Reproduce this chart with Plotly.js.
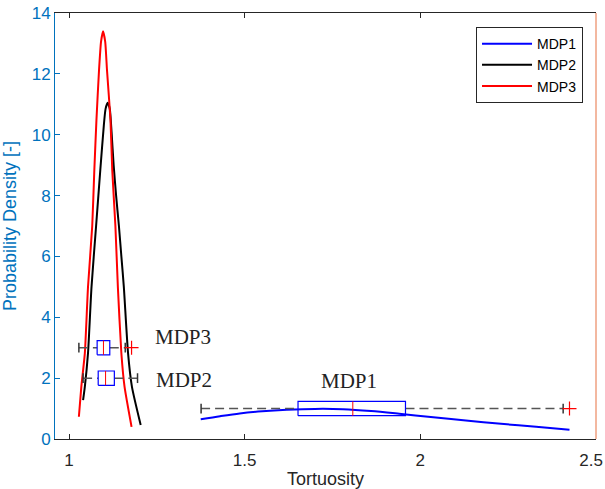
<!DOCTYPE html>
<html><head><meta charset="utf-8">
<script src="https://cdn.plot.ly/plotly-3.0.1.min.js"></script>
<style>html,body{margin:0;padding:0;background:#fff}#chart{width:605px;height:489px}</style>
</head><body><div id="chart"></div>
<script>
// Density curves
const mdp1X = [1.375,1.43,1.486,1.55,1.62,1.70,1.78,1.86,1.94,2.03,2.13,2.23,2.33,2.425];
const mdp1Y = [0.65,0.75,0.84,0.91,0.96,0.99,0.98,0.92,0.83,0.72,0.61,0.50,0.40,0.30];
const mdp2X = [1.040,1.045,1.054,1.064,1.077,1.089,1.099,1.104,1.110,1.116,1.121,1.127,1.134,1.142,1.149,1.156,1.168,1.179,1.204];
const mdp2Y = [1.28,1.72,2.82,5.0,7.0,8.84,10.3,10.85,11.05,10.85,10.1,9.0,8.0,7.0,6.0,5.0,2.82,1.72,0.46];
const mdp3X = [1.028,1.035,1.045,1.054,1.066,1.072,1.078,1.0854,1.091,1.0968,1.103,1.108,1.118,1.123,1.132,1.139,1.149,1.158,1.178];
const mdp3Y = [0.73,1.72,2.82,5.0,7.0,8.84,10.48,12.13,13.05,13.40,13.05,12.13,10.48,8.84,7.0,5.0,2.82,1.72,0.40];

// Box plot statistics (horizontal boxes)
const boxNames = ['MDP1','MDP2','MDP3'];
const boxPos = [1,2,3];
const whiskLo = [1.376,1.040,1.028];
const q1 = [1.652,1.083,1.080];
const med = [1.808,1.104,1.098];
const q3 = [1.958,1.129,1.116];
const whiskHi = [2.407,1.195,1.160];
const outX = [2.425,1.178];
const outY = [1,3];

// Axis ticks
const xTickVals = [1,1.5,2,2.5];
const xTickText = ['1','1.5','2','2.5\u00a0\u00a0'];

// Text labels
const labelText = ['MDP1','MDP2','MDP3'];
const labelX = [1.798,1.328,1.324];
const labelY = [1.90,1.94,3.36];

const H = 0.235;
const traces = [
  {x:mdp1X,y:mdp1Y,type:'scatter',mode:'lines',name:'MDP1',line:{color:'#0000FF',width:2,shape:'spline',smoothing:0.8}},
  {x:mdp2X,y:mdp2Y,type:'scatter',mode:'lines',name:'MDP2',line:{color:'#000000',width:2,shape:'spline',smoothing:0.6}},
  {x:mdp3X,y:mdp3Y,type:'scatter',mode:'lines',name:'MDP3',line:{color:'#FF0000',width:2,shape:'spline',smoothing:0.5}}
];
for (let i=0;i<boxPos.length;i++){
  const y=boxPos[i];
  traces.push({x:[whiskLo[i],q1[i],null,q3[i],whiskHi[i]],y:[y,y,null,y,y],type:'scatter',mode:'lines',showlegend:false,hoverinfo:'skip',line:{color:'#555',width:1.5,dash:'9px,5px'}});
  traces.push({x:[whiskLo[i],whiskHi[i]],y:[y,y],type:'scatter',mode:'markers',showlegend:false,hoverinfo:'skip',marker:{symbol:'line-ns',size:7,line:{color:'#333',width:1.5}}});
  traces.push({x:[q1[i],q3[i],q3[i],q1[i],q1[i]],y:[y-H,y-H,y+H,y+H,y-H],type:'scatter',mode:'lines',showlegend:false,hoverinfo:'skip',line:{color:'#0000FF',width:1.2}});
  traces.push({x:[med[i],med[i]],y:[y-H,y+H],type:'scatter',mode:'lines',showlegend:false,hoverinfo:'skip',line:{color:'#FF0000',width:1}});
}
traces.push({x:outX,y:outY,type:'scatter',mode:'markers',showlegend:false,hoverinfo:'skip',marker:{symbol:'cross-thin',size:10,line:{color:'#FF0000',width:1.2}}});

const annotations = labelText.map((t,i)=>({x:labelX[i],y:labelY[i],xref:'x',yref:'y',text:t,showarrow:false,font:{family:'Liberation Serif, Times New Roman, serif',size:21,color:'#222'}}));

const layout = {
  width:605,height:489,
  margin:{l:55,r:9,t:13,b:50},
  paper_bgcolor:'#fff',plot_bgcolor:'#fff',
  font:{family:'Liberation Sans, Arial, sans-serif'},
  xaxis:{range:[0.96,2.5005],tickvals:xTickVals,ticktext:xTickText,ticks:'inside',ticklen:5,tickcolor:'#262626',
    showline:true,linecolor:'#262626',linewidth:1,mirror:'ticks',showgrid:false,zeroline:false,
    tickfont:{size:17,color:'#262626'},ticklabelstandoff:6,ticklabeloverflow:'allow',
    title:{text:'Tortuosity',font:{size:18,color:'#262626'},standoff:13}},
  yaxis:{range:[0,14],dtick:2,ticks:'inside',ticklen:5,tickcolor:'#0072BD',showline:true,linecolor:'#0072BD',linewidth:1,
    showgrid:false,zeroline:false,tickfont:{size:17,color:'#0072BD'},ticklabelstandoff:0,
    title:{text:'Probability Density [-]',font:{size:18,color:'#0072BD'},standoff:10}},
  shapes:[{type:'line',xref:'paper',yref:'paper',x0:1,x1:1,y0:0,y1:1,line:{color:'#EFA080',width:1.5}}],
  annotations:annotations,
  legend:{x:0.976,y:0.967,xanchor:'right',yanchor:'top',bgcolor:'#fff',bordercolor:'#262626',borderwidth:1,
    font:{size:14,color:'#000'},tracegroupgap:0,itemwidth:50},
  showlegend:true
};
Plotly.newPlot('chart',traces,layout,{displayModeBar:false,staticPlot:true});
</script></body></html>
